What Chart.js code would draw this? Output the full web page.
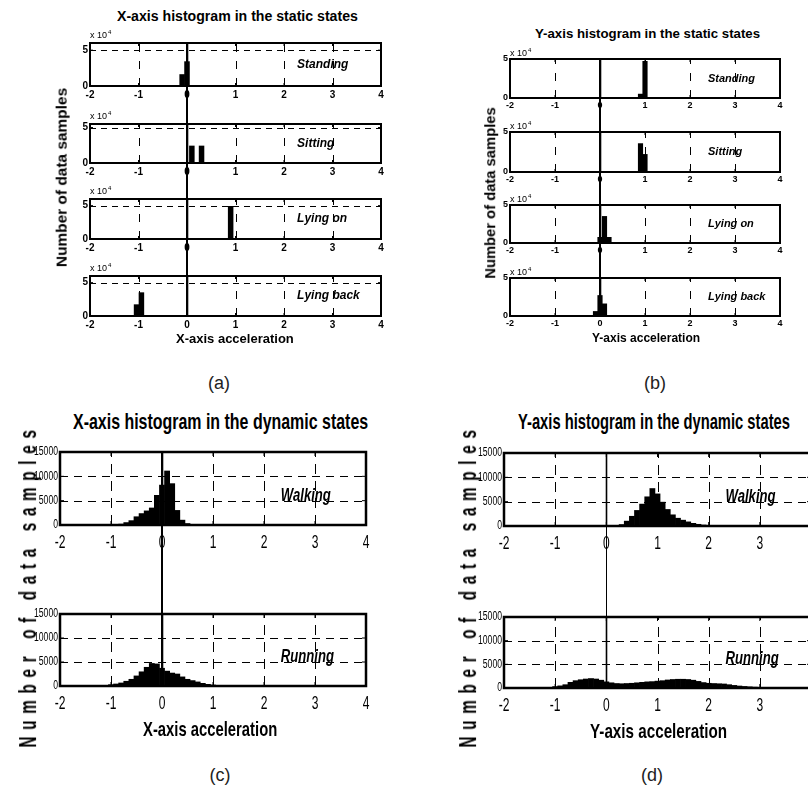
<!DOCTYPE html>
<html><head><meta charset="utf-8">
<script src="https://cdn.jsdelivr.net/npm/chart.js@4.4.0/dist/chart.umd.min.js"></script>
<style>
html,body{margin:0;padding:0;background:#fff;}
#fig{position:relative;width:808px;height:795px;overflow:hidden;background:#fff;font-family:"Liberation Sans",Arial,sans-serif;}
#fig canvas{position:absolute;}
.txt{position:absolute;white-space:nowrap;color:#000;line-height:1;transform-origin:center center;}
.zl{position:absolute;background:#000;}
</style></head><body><div id="fig"></div>
<script>
// ================= DATA =================
const xTicks = [-2, -1, 0, 1, 2, 3, 4];
const staticYTicks = [0, 50000];
const dynYTicks = [0, 5000, 10000, 15000];
const staticStates = ['Standing', 'Sitting', 'Lying on', 'Lying back'];
const dynStates = ['Walking', 'Running'];

// (a) X-axis, static states
const xStandBins = [-0.1, 0.0];
const xStandCounts = [16000, 34000];
const xSitBins = [0.1, 0.2, 0.3];
const xSitCounts = [24000, 0, 24000];
const xLyOnBins = [0.8, 0.9, 1.0];
const xLyOnCounts = [0, 49000, 0];
const xLyBackBins = [-1.04, -0.94];
const xLyBackCounts = [17000, 35000];

// (b) Y-axis, static states
const yStandBins = [0.9, 1.0];
const yStandCounts = [5000, 47000];
const ySitBins = [0.9, 1.0];
const ySitCounts = [35500, 22000];
const yLyOnBins = [0.0, 0.1, 0.2];
const yLyOnCounts = [7500, 35000, 7500];
const yLyBackBins = [-0.1, 0.0, 0.1];
const yLyBackCounts = [6000, 27000, 16000];

// (c) X-axis, dynamic states
const xWalkBins = [-0.8, -0.7, -0.6, -0.5, -0.4, -0.3, -0.2, -0.1, 0.0, 0.1, 0.2, 0.3, 0.4, 0.5];
const xWalkCounts = [180, 500, 900, 1700, 2350, 2900, 3500, 6100, 8200, 11100, 8500, 3000, 1000, 300];
const xRunBins = [-1.2, -1.1, -1.0, -0.9, -0.8, -0.7, -0.6, -0.5, -0.4, -0.3, -0.2, -0.1, 0.0, 0.1, 0.2, 0.3, 0.4, 0.5, 0.6, 0.7, 0.8, 0.9, 1.0, 1.1, 1.2, 1.3, 1.4, 1.5];
const xRunCounts = [80, 140, 280, 420, 630, 990, 1400, 2100, 2960, 3900, 4700, 4600, 3700, 3100, 2700, 2500, 1900, 1400, 1130, 850, 560, 350, 210, 140, 100, 80, 60, 50];

// (d) Y-axis, dynamic states
const yWalkBins = [0.2, 0.3, 0.4, 0.5, 0.6, 0.7, 0.8, 0.9, 1.0, 1.1, 1.2, 1.3, 1.4, 1.5, 1.6, 1.7, 1.8, 1.9, 2.0];
const yWalkCounts = [120, 300, 1000, 2000, 3200, 4500, 6000, 7700, 6600, 4900, 3400, 2300, 1600, 1200, 850, 550, 350, 200, 80];
const yRunBins = [-1.0, -0.9, -0.8, -0.7, -0.6, -0.5, -0.4, -0.3, -0.2, -0.1, 0.0, 0.1, 0.2, 0.3, 0.4, 0.5, 0.6, 0.7, 0.8, 0.9, 1.0, 1.1, 1.2, 1.3, 1.4, 1.5, 1.6, 1.7, 1.8, 1.9, 2.0, 2.1, 2.2, 2.3, 2.4, 2.5, 2.6, 2.7, 2.8, 2.9, 3.0, 3.1, 3.2];
const yRunCounts = [300, 450, 700, 1200, 1550, 1750, 1900, 2000, 1900, 1650, 1300, 1100, 950, 900, 950, 1000, 1100, 1200, 1300, 1350, 1450, 1550, 1700, 1800, 1850, 1850, 1800, 1650, 1400, 1150, 1000, 950, 900, 850, 700, 550, 420, 330, 250, 180, 120, 80, 60];

// ================= LAYOUT / STYLE =================
const fig = document.getElementById('fig');
const FAM = '"Liberation Sans", Arial, sans-serif';
const cfgMap = new Map();

function addText(str, o) {
  const d = document.createElement('div');
  d.className = 'txt';
  d.textContent = str;
  d.style.font = `${o.style || 'normal'} ${o.weight || 'normal'} ${o.size}px ${FAM}`;
  if (o.spacing) d.style.letterSpacing = o.spacing + 'px';
  if (o.color) d.style.color = o.color;
  fig.appendChild(d);
  const w = d.offsetWidth, h = d.offsetHeight;
  const sx = o.width ? o.width / w : (o.sx || 1);
  d.style.left = (o.x - w / 2) + 'px';
  d.style.top = (o.y - h / 2) + 'px';
  d.style.transform = `rotate(${o.rotate || 0}deg) scaleX(${sx})`;
  return d;
}

function drawText(ctx, str, x, y, font, align, base, sx) {
  ctx.save();
  ctx.translate(x, y);
  ctx.scale(sx || 1, 1);
  ctx.font = font;
  ctx.textAlign = align;
  ctx.textBaseline = base;
  ctx.fillText(str, 0, 0);
  ctx.restore();
}
function seg(ctx, x1, y1, x2, y2) { ctx.beginPath(); ctx.moveTo(x1, y1); ctx.lineTo(x2, y2); ctx.stroke(); }

const matlabPlugin = {
  id: 'matlab',
  beforeDatasetsDraw(chart) {
    const o = cfgMap.get(chart.canvas);
    const { ctx, chartArea: a, scales: { x, y } } = chart;
    ctx.save();
    ctx.strokeStyle = '#000';
    ctx.lineWidth = 1;
    xTicks.forEach(v => {
      if (v <= x.min || v >= x.max) return;
      const px = Math.round(x.getPixelForValue(v)) + 0.5;
      if (v === 0) {
        ctx.setLineDash([]); ctx.lineWidth = 1.6;
        seg(ctx, px, a.bottom, px, a.top);
        ctx.lineWidth = 1;
      } else {
        ctx.setLineDash(o.vDash);
        seg(ctx, px, a.bottom, px, a.top);
      }
    });
    ctx.setLineDash(o.hDash);
    o.yTicks.forEach(v => {
      if (v <= y.min || v >= y.max) return;
      const py = Math.round(y.getPixelForValue(v)) + 0.5;
      seg(ctx, a.left, py, a.right, py);
    });
    ctx.restore();
  },
  afterDraw(chart) {
    const o = cfgMap.get(chart.canvas);
    const { ctx, chartArea: a, scales: { x, y } } = chart;
    ctx.save();
    ctx.strokeStyle = '#000'; ctx.fillStyle = '#000'; ctx.setLineDash([]);
    ctx.lineWidth = 1;
    const tl = o.tickLen;
    xTicks.forEach(v => {
      const px = x.getPixelForValue(v);
      seg(ctx, px, a.bottom, px, a.bottom - tl);
      seg(ctx, px, a.top, px, a.top + tl);
    });
    o.yTicks.forEach(v => {
      const py = y.getPixelForValue(v);
      seg(ctx, a.left, py, a.left + tl, py);
      seg(ctx, a.right, py, a.right - tl, py);
    });
    ctx.lineWidth = o.frameWidth;
    ctx.strokeRect(a.left, a.top, a.right - a.left, a.bottom - a.top);
    // tick labels
    xTicks.forEach(v => drawText(ctx, String(v), x.getPixelForValue(v), a.bottom + o.xLabGap, o.xTickFont, 'center', 'middle', o.xTickSx));
    o.yTicks.forEach(v => {
      if (v > y.max) return;
      const s = o.kind === 'static' ? String(v / 10000) : String(v);
      drawText(ctx, s, a.left - o.yLabGap, y.getPixelForValue(v), o.yTickFont, 'right', 'middle', o.yTickSx);
    });
    if (o.kind === 'static') {
      drawText(ctx, 'x 10', a.left, a.top - o.expGap, o.expFont, 'left', 'alphabetic', 1);
      ctx.font = o.expFont;
      const w = ctx.measureText('x 10').width;
      drawText(ctx, '4', a.left + w + 1, a.top - o.expGap - 4, o.expSupFont, 'left', 'alphabetic', 1);
      drawText(ctx, o.label, x.getPixelForValue(o.labelX), (a.top + a.bottom) / 2, o.labelFont, 'left', 'middle', 1);
    } else {
      drawText(ctx, o.label, x.getPixelForValue(o.labelX), y.getPixelForValue(o.labelY), o.labelFont, 'left', 'alphabetic', o.labelSx);
    }
    ctx.restore();
  }
};

function makeSubplot(cfg) {
  const m = cfg.kind === 'static' ? { l: 40, r: 8, t: 16, b: 18 } : { l: 48, r: 8, t: 10, b: 34 };
  const [L, T, R, B] = cfg.frame;
  const cv = document.createElement('canvas');
  const W = (R - L) + m.l + m.r, H = (B - T) + m.t + m.b;
  cv.width = W; cv.height = H;
  cv.style.left = (L - m.l) + 'px'; cv.style.top = (T - m.t) + 'px';
  cv.style.width = W + 'px'; cv.style.height = H + 'px';
  fig.appendChild(cv);
  cfgMap.set(cv, cfg);
  const data = cfg.bins.map((b, i) => ({ x: b, y: cfg.counts[i] }));
  return new Chart(cv, {
    type: 'bar',
    data: { datasets: [{ data, backgroundColor: '#000', borderWidth: 0, barPercentage: 1, categoryPercentage: 1 }] },
    options: {
      responsive: false, animation: false, devicePixelRatio: 1,
      layout: { padding: { left: m.l, right: m.r, top: m.t, bottom: m.b } },
      plugins: { legend: { display: false }, tooltip: { enabled: false }, title: { display: false } },
      scales: {
        x: { type: 'linear', min: -2, max: 4, offset: false, ticks: { display: false, stepSize: 1 }, grid: { display: false, drawTicks: false }, border: { display: false } },
        y: { type: 'linear', min: 0, max: cfg.ymax, ticks: { display: false }, grid: { display: false, drawTicks: false }, border: { display: false } }
      }
    },
    plugins: [matlabPlugin]
  });
}

function zeroLine(charts) {
  const c0 = charts[0], c1 = charts[charts.length - 1];
  const x0 = c0.canvas.offsetLeft + c0.scales.x.getPixelForValue(0);
  const top = c0.canvas.offsetTop + c0.chartArea.top;
  const bot = c1.canvas.offsetTop + c1.chartArea.bottom;
  const d = document.createElement('div');
  d.className = 'zl';
  d.style.left = (x0 - 0.8) + 'px'; d.style.width = '1.6px';
  d.style.top = top + 'px'; d.style.height = (bot - top) + 'px';
  fig.appendChild(d);
}

const staticA = { kind: 'static', yTicks: staticYTicks, vDash: [8, 9], hDash: [6, 5], tickLen: 3, frameWidth: 2,
  xLabGap: 9, xTickFont: `bold 10px ${FAM}`, xTickSx: 1, yLabGap: 2, yTickFont: `bold 10px ${FAM}`, yTickSx: 1,
  expGap: 5, expFont: `9px ${FAM}`, expSupFont: `6px ${FAM}`, labelX: 2.27, labelFont: `italic bold 12px ${FAM}` };
const staticB = Object.assign({}, staticA, { xLabGap: 8, xTickFont: `bold 9px ${FAM}`, yTickFont: `bold 9px ${FAM}`, expGap: 3, labelX: 2.4, labelFont: `italic bold 11px ${FAM}` });
const dyn = { kind: 'dyn', yTicks: dynYTicks, ymax: 15000, vDash: [10, 7], hDash: [8, 6], tickLen: 4, frameWidth: 2.5,
  xLabGap: 18, xTickFont: `18.5px ${FAM}`, xTickSx: 0.65, yLabGap: 2, yTickFont: `12px ${FAM}`, yTickSx: 0.72,
  labelX: 2.33, labelY: 5000, labelFont: `italic bold 19px ${FAM}`, labelSx: 0.69 };

// ---- panel (a) ----
const aFrames = [[90, 43, 381, 86], [90, 124, 381, 163], [90, 199, 381, 239], [90, 276, 381, 316]];
const aMax = [60000, 55000, 60000, 60000];
const aBins = [xStandBins, xSitBins, xLyOnBins, xLyBackBins];
const aCounts = [xStandCounts, xSitCounts, xLyOnCounts, xLyBackCounts];
const chartsA = aFrames.map((f, i) => makeSubplot(Object.assign({}, staticA, { frame: f, ymax: aMax[i], bins: aBins[i], counts: aCounts[i], label: staticStates[i] })));
zeroLine(chartsA);

// ---- panel (b) ----
const bFrames = [[510, 59, 780, 98], [510, 132, 780, 172], [510, 205, 780, 243], [510, 278, 780, 316]];
const bBins = [yStandBins, ySitBins, yLyOnBins, yLyBackBins];
const bCounts = [yStandCounts, ySitCounts, yLyOnCounts, yLyBackCounts];
const chartsB = bFrames.map((f, i) => makeSubplot(Object.assign({}, staticB, { frame: f, ymax: 50000, bins: bBins[i], counts: bCounts[i], label: staticStates[i] })));
zeroLine(chartsB);

// ---- panel (c) ----
const cFrames = [[60, 452, 366, 525], [60, 614, 366, 686]];
const chartsC = [
  makeSubplot(Object.assign({}, dyn, { frame: cFrames[0], bins: xWalkBins, counts: xWalkCounts, label: dynStates[0] })),
  makeSubplot(Object.assign({}, dyn, { frame: cFrames[1], bins: xRunBins, counts: xRunCounts, label: dynStates[1] }))
];
zeroLine(chartsC);

// ---- panel (d) ----
const dFrames = [[504, 453, 811, 526], [504, 617, 811, 688]];
const chartsD = [
  makeSubplot(Object.assign({}, dyn, { frame: dFrames[0], bins: yWalkBins, counts: yWalkCounts, label: dynStates[0] })),
  makeSubplot(Object.assign({}, dyn, { frame: dFrames[1], bins: yRunBins, counts: yRunCounts, label: dynStates[1] }))
];
zeroLine(chartsD);

// ---- titles & labels ----
addText('X-axis histogram in the static states', { x: 237.5, y: 15.5, size: 14, weight: 'bold', width: 241 });
addText('Y-axis histogram in the static states', { x: 647.5, y: 33.5, size: 13, weight: 'bold', width: 225 });
addText('Number of data samples', { x: 61, y: 177.5, size: 15, weight: 'bold', rotate: -90, width: 179 });
addText('Number of data samples', { x: 490, y: 192.5, size: 14.5, weight: 'bold', rotate: -90, width: 171 });
addText('X-axis acceleration', { x: 235, y: 338, size: 13, weight: 'bold' });
addText('Y-axis acceleration', { x: 646, y: 338, size: 12, weight: 'bold' });
addText('(a)', { x: 219, y: 383, size: 18, color: '#222' });
addText('(b)', { x: 655, y: 383, size: 18, color: '#222' });

addText('X-axis histogram in the dynamic states', { x: 220, y: 421.5, size: 22, weight: 'bold', width: 295 });
addText('Y-axis histogram in the dynamic states', { x: 654, y: 421.5, size: 22, weight: 'bold', width: 272 });
addText('Number of data samples', { x: 28.5, y: 585, size: 23, weight: 'bold', rotate: -90, spacing: 10, width: 324 });
addText('Number of data samples', { x: 468, y: 585, size: 23, weight: 'bold', rotate: -90, spacing: 10, width: 324 });
addText('X-axis acceleration', { x: 210, y: 729, size: 21, weight: 'bold', width: 134 });
addText('Y-axis acceleration', { x: 658, y: 731, size: 21, weight: 'bold', width: 137 });
addText('(c)', { x: 220, y: 775, size: 18, color: '#222' });
addText('(d)', { x: 652, y: 775, size: 18, color: '#222' });
</script>
</body></html>
